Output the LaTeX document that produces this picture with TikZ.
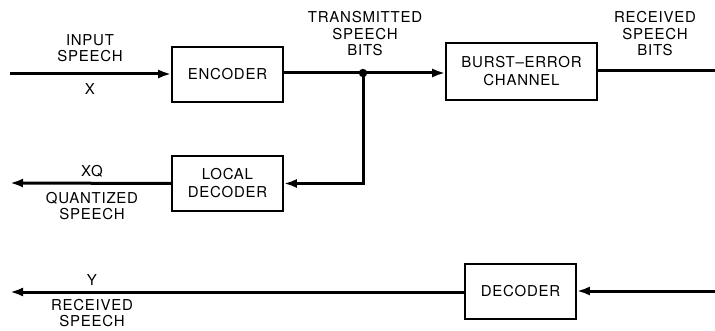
\documentclass[tikz,border=0pt]{standalone}
\usepackage{fontspec}
\setmainfont[LetterSpace=5]{TeX Gyre Heros}
\usetikzlibrary{arrows.meta}
\begin{document}
\begin{tikzpicture}[x=1pt,y=-1pt,
  blk/.style={draw,line width=1.6pt,minimum width=111pt,minimum height=55pt,inner sep=0pt,align=center,font=\fontsize{15}{18}\selectfont},
  lbl/.style={align=center,inner sep=0pt,font=\fontsize{15}{16.5}\selectfont},
  wire/.style={line width=3pt},
  arr/.style={wire,-{Latex[length=13pt,width=9pt]}}]
\useasboundingbox (0,0) rectangle (715,331);
\node[blk] (enc) at (227.5,74.5) {ENCODER};
\node[blk,minimum width=151pt,minimum height=57pt] (ch) at (521.5,71.5) {BURST--ERROR\\CHANNEL};
\node[blk] (ld) at (227.5,183.5) {LOCAL\\DECODER};
\node[blk] (dec) at (520.5,291.5) {DECODER};
\coordinate (in) at (10,74);
\coordinate (dot) at (363,73);
\coordinate (outR) at (715,71);
\coordinate (xq) at (10,183);
\coordinate (decin) at (715,291);
\coordinate (y) at (10,292);
\draw[arr] (in) -- (enc.west |- in);
\draw[wire] (enc.east |- dot) -- (dot);
\draw[arr] (dot) -- (ch.west |- dot);
\draw[wire] (ch.east |- outR) -- (outR);
\draw[arr] (dot) |- (ld.east);
\fill (dot) circle (4.2pt);
\draw[arr] (ld.west) -- (xq);
\draw[arr] (decin) -- (dec.east |- decin);
\draw[arr] (dec.west |- y) -- (y);
\node[lbl] (tIn) at (90,48) {INPUT\\SPEECH};
\node[lbl] (tX) at (90,89) {X};
\node[lbl] (tTx) at (365,34) {TRANSMITTED\\SPEECH\\BITS};
\node[lbl] (tRx) at (655,34) {RECEIVED\\SPEECH\\BITS};
\node[lbl] (tXQ) at (92,171) {XQ};
\node[lbl] (tQ) at (92,206) {QUANTIZED\\SPEECH};
\node[lbl] (tY) at (92,280) {Y};
\node[lbl] (tR) at (92,313) {RECEIVED\\SPEECH};
\end{tikzpicture}
\end{document}
